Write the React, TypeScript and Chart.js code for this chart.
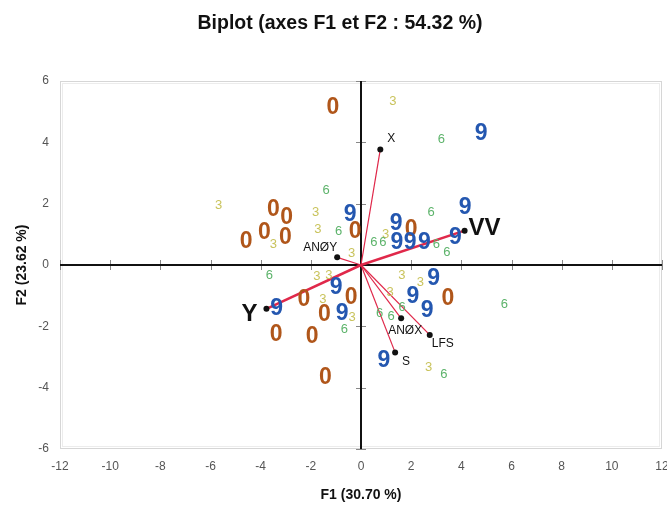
import React, { useEffect, useRef } from "react";
import { Chart, registerables } from "chart.js";

Chart.register(...registerables);

// ---- Text ----
const TITLE = "Biplot (axes F1 et F2 : 54.32 %)";
const X_TITLE = "F1 (30.70 %)";
const Y_TITLE = "F2 (23.62 %)";

// ---- Axis ranges ----
const X_MIN = -12;
const X_MAX = 12;
const Y_MIN = -6;
const Y_MAX = 6;
const TICK_STEP = 2;

// ---- Observations (F1, F2) per group ----
const GROUP_NAMES = ["0", "3", "6", "9"];

const g0F1 = [-1.12, -3.49, -2.96, -0.23, 2.0, -4.58, -3.85, -3.01, -0.39, -2.28, -1.46, -3.38, -1.95, -1.42, 3.46];
const g0F2 = [5.12, 1.8, 1.53, 1.1, 1.15, 0.77, 1.04, 0.88, -1.06, -1.13, -1.62, -2.27, -2.35, -3.66, -1.11];

const g3F1 = [1.27, -5.68, -1.81, -1.72, -3.49, -0.37, 0.98, -1.76, -1.28, -1.52, -0.35, 1.63, 2.37, 1.16, 2.7];
const g3F2 = [5.33, 1.93, 1.7, 1.15, 0.66, 0.39, 1.01, -0.37, -0.35, -1.11, -1.7, -0.35, -0.57, -0.91, -3.33];

const g6F1 = [3.2, -1.39, 2.8, -0.89, 0.51, 0.87, 3.0, 3.42, -3.65, -0.66, 1.64, 0.74, 1.2, 3.3, 5.72];
const g6F2 = [4.11, 2.42, 1.72, 1.1, 0.74, 0.74, 0.66, 0.41, -0.35, -2.11, -1.37, -1.57, -1.68, -3.58, -1.29];

const g9F1 = [4.79, -0.43, 4.15, 1.4, 1.43, 1.96, 2.53, 3.76, -0.99, -3.36, -0.75, 2.9, 2.07, 2.64, 0.91];
const g9F2 = [4.27, 1.64, 1.88, 1.35, 0.72, 0.72, 0.74, 0.88, -0.75, -1.43, -1.6, -0.46, -1.02, -1.49, -3.12];

// ---- Variables (loadings) ----
const VAR_NAMES = ["X", "ANØY", "Y", "VV", "ANØX", "LFS", "S"];
const VAR_F1 = [0.77, -0.95, -3.77, 4.13, 1.6, 2.74, 1.36];
const VAR_F2 = [3.77, 0.25, -1.43, 1.12, -1.74, -2.28, -2.85];

// ---- Styles ----
const GROUP_COLORS = ["#b0561a", "#c9c35c", "#5cb36a", "#2457b0"];
const GROUP_FONTS = [
  "bold 23px 'Liberation Sans', Arial, sans-serif",
  "13px 'Liberation Sans', Arial, sans-serif",
  "13px 'Liberation Sans', Arial, sans-serif",
  "bold 23px 'Liberation Sans', Arial, sans-serif",
];
const VECTOR_COLOR = "#e0284a";
const BIG_VARS = ["Y", "VV"];
// label placement relative to the point: [dx, dy, align]
const VAR_LABEL_POS: Record<string, [number, number, string]> = {
  X: [11, -11, "center"],
  "ANØY": [-17, -10, "center"],
  Y: [-17, 6, "center"],
  VV: [4, -2, "left"],
  "ANØX": [4, 12, "center"],
  LFS: [13, 9, "center"],
  S: [11, 9, "center"],
};

function pts(xs: number[], ys: number[]) {
  return xs.map((x, i) => ({ x, y: ys[i] }));
}

const overlayPlugin = {
  id: "biplotOverlay",
  beforeDatasetsDraw(chart: any) {
    const { ctx, chartArea, scales } = chart;
    const xs = scales.x;
    const ys = scales.y;
    const x0 = xs.getPixelForValue(0);
    const y0 = ys.getPixelForValue(0);
    ctx.save();
    // frame
    ctx.strokeStyle = "#d6d6d6";
    ctx.lineWidth = 1;
    ctx.strokeRect(chartArea.left + 0.5, chartArea.top + 0.5, chartArea.right - chartArea.left - 1, chartArea.bottom - chartArea.top - 1);
    ctx.strokeStyle = "#ececec";
    ctx.strokeRect(chartArea.left + 2.5, chartArea.top + 2.5, chartArea.right - chartArea.left - 5, chartArea.bottom - chartArea.top - 5);
    // tick marks on central axes
    ctx.strokeStyle = "#888";
    ctx.lineWidth = 1;
    ctx.beginPath();
    xs.ticks.forEach((t: any) => {
      const px = Math.round(xs.getPixelForValue(t.value)) + 0.5;
      ctx.moveTo(px, y0 - 5);
      ctx.lineTo(px, y0 + 5);
    });
    ys.ticks.forEach((t: any) => {
      const py = Math.round(ys.getPixelForValue(t.value)) + 0.5;
      ctx.moveTo(x0 - 5, py);
      ctx.lineTo(x0 + 5, py);
    });
    ctx.stroke();
    // central axes
    ctx.strokeStyle = "#111";
    ctx.lineWidth = 2;
    ctx.beginPath();
    ctx.moveTo(chartArea.left, y0);
    ctx.lineTo(chartArea.right, y0);
    ctx.moveTo(x0, chartArea.top);
    ctx.lineTo(x0, chartArea.bottom);
    ctx.stroke();
    ctx.restore();
  },
  afterDatasetsDraw(chart: any) {
    const { ctx } = chart;
    ctx.save();
    ctx.textBaseline = "middle";
    chart.data.datasets.forEach((ds: any, di: number) => {
      const meta = chart.getDatasetMeta(di);
      const gi = GROUP_NAMES.indexOf(ds.label);
      if (ds.kind === "group" && gi >= 0) {
        ctx.fillStyle = GROUP_COLORS[gi];
        ctx.font = GROUP_FONTS[gi];
        ctx.textAlign = "center";
        meta.data.forEach((el: any) => {
          ctx.fillText(ds.label, el.x, el.y);
        });
      } else if (ds.kind === "vector") {
        const el = meta.data[1];
        const name = ds.label;
        const pos = VAR_LABEL_POS[name] || [8, -8, "center"];
        const big = BIG_VARS.includes(name);
        ctx.fillStyle = "#111";
        ctx.font = big ? "bold 24px 'Liberation Sans', Arial, sans-serif" : "12px 'Liberation Sans', Arial, sans-serif";
        ctx.textAlign = pos[2];
        ctx.fillText(name, el.x + pos[0], el.y + pos[1]);
      }
    });
    ctx.restore();
  },
};

export default function App() {
  const ref = useRef<HTMLCanvasElement | null>(null);

  useEffect(() => {
    if (!ref.current) return;
    const groupX = [g0F1, g3F1, g6F1, g9F1];
    const groupY = [g0F2, g3F2, g6F2, g9F2];
    const groupDatasets = GROUP_NAMES.map((name, i) => ({
      kind: "group",
      label: name,
      data: pts(groupX[i], groupY[i]),
      pointRadius: 0,
      pointHoverRadius: 0,
      showLine: false,
    }));
    const vectorDatasets = VAR_NAMES.map((name, i) => ({
      kind: "vector",
      label: name,
      data: [
        { x: 0, y: 0 },
        { x: VAR_F1[i], y: VAR_F2[i] },
      ],
      showLine: true,
      borderColor: VECTOR_COLOR,
      borderWidth: BIG_VARS.includes(name) ? 2.5 : 1.2,
      pointRadius: [0, 3],
      pointBackgroundColor: "#111",
      pointBorderColor: "#111",
      pointBorderWidth: 0,
    }));

    const fontFamily = "'Liberation Sans', Arial, sans-serif";
    const chart = new Chart(ref.current, {
      type: "scatter",
      data: { datasets: [...groupDatasets, ...vectorDatasets] as any },
      options: {
        responsive: false,
        animation: false,
        devicePixelRatio: 1,
        layout: { padding: { left: 18, right: 18, top: 0, bottom: 0 } },
        plugins: {
          legend: { display: false },
          tooltip: { enabled: false },
          title: {
            display: true,
            text: TITLE,
            color: "#111",
            font: { family: fontFamily, size: 19.5, weight: "bold" },
            padding: { top: 12, bottom: 45.6 },
          },
        },
        scales: {
          x: {
            type: "linear",
            min: X_MIN,
            max: X_MAX,
            grid: { display: false, drawTicks: false },
            border: { display: false },
            ticks: {
              stepSize: TICK_STEP,
              color: "#555",
              font: { family: fontFamily, size: 12 },
              padding: 10,
              maxRotation: 0,
            },
            title: {
              display: true,
              text: X_TITLE,
              color: "#111",
              font: { family: fontFamily, size: 14, weight: "bold" },
              padding: { top: 0, bottom: 1.6 },
            },
            afterFit(scale: any) {
              scale.height = 56;
            },
          },
          y: {
            type: "linear",
            min: Y_MIN,
            max: Y_MAX,
            grid: { display: false, drawTicks: false },
            border: { display: false },
            ticks: {
              stepSize: TICK_STEP,
              color: "#555",
              font: { family: fontFamily, size: 12 },
              padding: 11,
            },
            title: {
              display: true,
              text: Y_TITLE,
              color: "#111",
              font: { family: fontFamily, size: 14, weight: "bold" },
              padding: { top: -4.5, bottom: 0 },
            },
            afterFit(scale: any) {
              scale.width = 42;
            },
          },
        },
      } as any,
      plugins: [overlayPlugin],
    });
    return () => chart.destroy();
  }, []);

  return (
    <div
      style={{
        position: "fixed",
        left: 0,
        top: 0,
        width: 667,
        height: 505,
        overflow: "hidden",
        background: "#fff",
      }}
    >
      <canvas ref={ref} width={680} height={505} style={{ display: "block", width: 680, height: 505 }} />
    </div>
  );
}
